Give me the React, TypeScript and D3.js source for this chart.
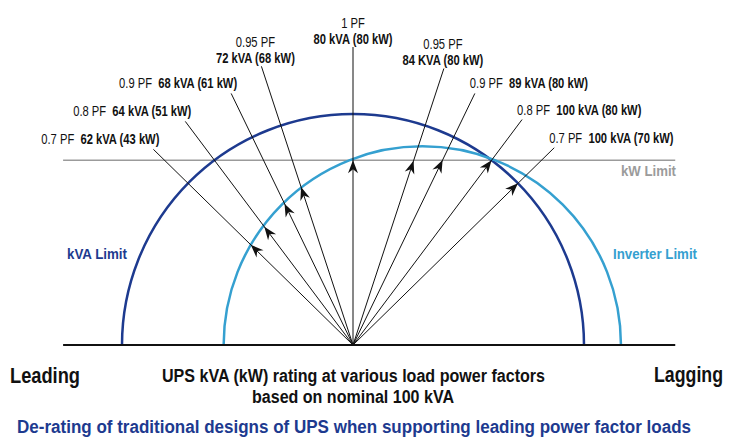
import React from "react";
import * as d3 from "d3";

// load power factor arrows, left to right (leading -> unity -> lagging)
const pfLabels = ["0.7 PF", "0.8 PF", "0.9 PF", "0.95 PF", "1 PF", "0.95 PF", "0.9 PF", "0.8 PF", "0.7 PF"];
const powerFactors = [0.7, 0.8, 0.9, 0.95, 1, 0.95, 0.9, 0.8, 0.7];
const pfSides = [-1, -1, -1, -1, 0, 1, 1, 1, 1]; // -1 leading, 1 lagging
const kvaValues = [62, 64, 68, 72, 80, 84, 89, 100, 100];
const kwValues = [43, 51, 61, 68, 80, 80, 80, 80, 70];
const ratingLabels = [
  "62 kVA (43 kW)",
  "64 kVA (51 kW)",
  "68 kVA (61 kW)",
  "72 kVA (68 kW)",
  "80 kVA (80 kW)",
  "84 KVA (80 kW)",
  "89 kVA (80 kW)",
  "100 kVA (80 kW)",
  "100 kVA (70 kW)",
];
const leaderReach = [121, 121, 121, 127, 129, 126, 121, 122, 122];

// limits (in kVA / kW units)
const kvaLimitRadius = 100;
const inverterCenter = 30;
const inverterRadius = 86;
const kwLimit = 80;
const axisExtent = [-125.5, 139.5];

const COLORS = {
  kva: "#1d3a8f",
  inverter: "#35a0d0",
  kw: "#9b9b9b",
  ink: "#111",
  title: "#1d3a8f",
};

const FONT = "'Liberation Sans', Arial, Helvetica, sans-serif";
const SQUEEZE = 0.8;

function Squeezed({ x, y, anchor, children, size = 14, weight = "normal", fill = COLORS.ink }: any) {
  return (
    <g transform={`translate(${x},${y}) scale(${SQUEEZE},1)`}>
      <text textAnchor={anchor} fontSize={size} fontWeight={weight} fill={fill} fontFamily={FONT}>
        {children}
      </text>
    </g>
  );
}

export default function App() {
  const width = 729;
  const height = 437;

  const x = d3.scaleLinear().domain([-100, 100]).range([122, 584]);
  const y = d3.scaleLinear().domain([0, 100]).range([345, 114]);
  const unit = x(1) - x(0);

  const semi = (cx: number, r: number) => {
    const p = d3.path();
    p.moveTo(x(cx - r), y(0));
    p.arc(x(cx), y(0), r * unit, Math.PI, 2 * Math.PI, false);
    return p.toString();
  };

  const arrows = powerFactors.map((pf, i) => {
    const theta = Math.acos(pf);
    const dx = pfSides[i] * Math.sin(theta);
    const dy = Math.cos(theta);
    const kva = kvaValues[i];
    return {
      pf,
      i,
      tipX: x(dx * kva),
      tipY: y(dy * kva),
      endX: x(dx * leaderReach[i]),
      endY: y(dy * leaderReach[i]),
      angle: (Math.atan2(dx, dy) * 180) / Math.PI,
      kw: kwValues[i],
    };
  });

  const headPath = "M0,0 L5,13 L0,9 L-5,13 Z";

  return (
    <svg
      width={width}
      height={height}
      style={{ position: "absolute", left: 0, top: 0, background: "#fff" }}
    >
      {/* kW limit */}
      <line
        x1={x(axisExtent[0])}
        x2={x(axisExtent[1])}
        y1={y(kwLimit)}
        y2={y(kwLimit)}
        stroke={COLORS.kw}
        strokeWidth={1.5}
      />

      {/* limit curves */}
      <path d={semi(0, kvaLimitRadius)} fill="none" stroke={COLORS.kva} strokeWidth={2.5} />
      <path d={semi(inverterCenter, inverterRadius)} fill="none" stroke={COLORS.inverter} strokeWidth={2.5} />

      {/* arrows */}
      {arrows.map((a) => (
        <g key={a.i}>
          <line x1={x(0)} y1={y(0)} x2={a.endX} y2={a.endY} stroke={COLORS.ink} strokeWidth={1} />
          <path
            d={headPath}
            transform={`translate(${a.tipX},${a.tipY}) rotate(${a.angle})`}
            fill={COLORS.ink}
          />
        </g>
      ))}

      {/* baseline */}
      <line
        x1={x(axisExtent[0])}
        x2={x(axisExtent[1])}
        y1={y(0)}
        y2={y(0)}
        stroke={COLORS.ink}
        strokeWidth={2}
      />

      {/* arrow labels */}
      {arrows.map((a) => {
        const stacked = a.pf >= 0.95;
        if (stacked) {
          const cx = a.endX + (pfSides[a.i] < 0 ? -6 : pfSides[a.i] > 0 ? -1 : 0);
          return (
            <g key={"l" + a.i}>
              <Squeezed x={cx} y={a.endY - 19} anchor="middle">
                {pfLabels[a.i]}
              </Squeezed>
              <Squeezed x={cx} y={a.endY - 3} anchor="middle" weight="bold">
                {ratingLabels[a.i]}
              </Squeezed>
            </g>
          );
        }
        const leading = pfSides[a.i] < 0;
        return (
          <Squeezed
            key={"l" + a.i}
            x={leading ? a.endX + 6 : a.endX - 5}
            y={a.endY - 5}
            anchor={leading ? "end" : "start"}
          >
            <tspan>{pfLabels[a.i]}</tspan>
            <tspan fontWeight="bold">{"\u00a0\u00a0" + ratingLabels[a.i]}</tspan>
          </Squeezed>
        );
      })}

      {/* limit labels */}
      <text x={67} y={259} fontFamily={FONT} fontWeight="bold" fontSize={14} fill={COLORS.kva} textLength={60} lengthAdjust="spacingAndGlyphs">
        kVA Limit
      </text>
      <text x={613} y={259} fontFamily={FONT} fontWeight="bold" fontSize={14} fill={COLORS.inverter} textLength={84} lengthAdjust="spacingAndGlyphs">
        Inverter Limit
      </text>
      <text x={621} y={176} fontFamily={FONT} fontWeight="bold" fontSize={14} fill={COLORS.kw} textLength={55} lengthAdjust="spacingAndGlyphs">
        kW Limit
      </text>

      {/* bottom texts */}
      <text x={10} y={383} fontFamily={FONT} fontWeight="bold" fontSize={22} fill={COLORS.ink} textLength={70} lengthAdjust="spacingAndGlyphs">
        Leading
      </text>
      <text x={654} y={382} fontFamily={FONT} fontWeight="bold" fontSize={22} fill={COLORS.ink} textLength={69} lengthAdjust="spacingAndGlyphs">
        Lagging
      </text>
      <text x={162} y={382} fontFamily={FONT} fontWeight="bold" fontSize={18} fill={COLORS.ink} textLength={383} lengthAdjust="spacingAndGlyphs">
        UPS kVA (kW) rating at various load power factors
      </text>
      <text x={252} y={403} fontFamily={FONT} fontWeight="bold" fontSize={18} fill={COLORS.ink} textLength={202} lengthAdjust="spacingAndGlyphs">
        based on nominal 100 kVA
      </text>
      <text x={17} y={433} fontFamily={FONT} fontWeight="bold" fontSize={18} fill={COLORS.title} textLength={674} lengthAdjust="spacingAndGlyphs">
        De-rating of traditional designs of UPS when supporting leading power factor loads
      </text>
    </svg>
  );
}
